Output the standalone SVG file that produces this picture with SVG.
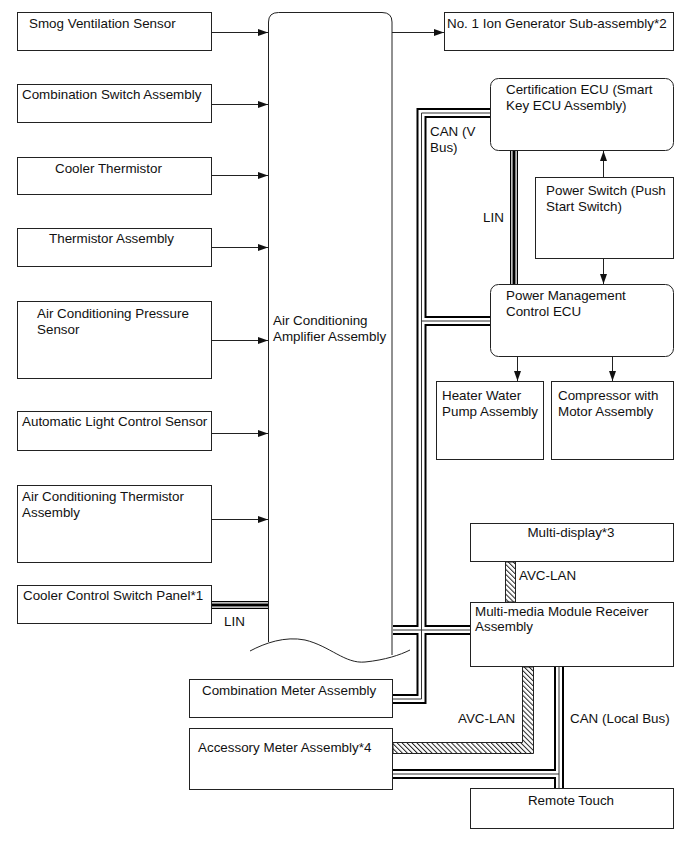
<svg xmlns="http://www.w3.org/2000/svg" width="689" height="853" viewBox="0 0 689 853">
<defs>
<style>
.box{fill:#fff;stroke:#222;stroke-width:1}
.t{font-family:"Liberation Sans",Arial,sans-serif;font-size:13.4px;fill:#111}
.ar{stroke:#222;stroke-width:1;fill:none;marker-end:url(#ah)}
.cb{stroke:#000;stroke-width:10;fill:none}
.cw{stroke:#fff;stroke-width:6;fill:none}
.cc{stroke:#333;stroke-width:1;fill:none}
.lb{stroke:#000;stroke-width:8;fill:none}
.lw{stroke:#fff;stroke-width:5.5;fill:none}
.lc{stroke:#000;stroke-width:3;fill:none}
.hatch{fill:url(#hp);stroke:#222;stroke-width:1}
</style>
<marker id="ah" viewBox="0 0 10 7" refX="10" refY="3.5" markerWidth="10" markerHeight="7" markerUnits="userSpaceOnUse" orient="auto"><path d="M0,0 L10,3.5 L0,7 z" fill="#111"/></marker>
<pattern id="hp" width="3.5" height="3.5" patternUnits="userSpaceOnUse" patternTransform="rotate(-45)"><rect width="3.5" height="3.5" fill="#fff"/><line x1="0.5" y1="0" x2="0.5" y2="3.5" stroke="#222" stroke-width="1"/></pattern>
</defs>
<rect width="689" height="853" fill="#fff"/>

<g id="amplifier">
<path d="M268.5,642 L268.5,22 Q268.5,12.5 278.5,12.5 L382,12.5 Q392,12.5 392,22 L392,655" fill="#fff" stroke="#222" stroke-width="1"/>
<path d="M250,651 C265,643 285,636 305,640 C330,646 345,664 365,662 C385,660 400,655 410,650" fill="none" stroke="#222" stroke-width="1"/>
<text class="t" x="273" y="325">Air Conditioning</text>
<text class="t" x="273" y="341">Amplifier Assembly</text>
</g>

<g id="smog"><rect class="box" x="17.5" y="12.5" width="194" height="38"/><text class="t" x="29" y="28">Smog Ventilation Sensor</text></g>
<g id="combswitch"><rect class="box" x="17.5" y="84.5" width="194" height="38"/><text class="t" x="22" y="99">Combination Switch Assembly</text></g>
<g id="coolertherm"><rect class="box" x="17.5" y="157.5" width="194" height="37"/><text class="t" x="55" y="173">Cooler Thermistor</text></g>
<g id="thermassy"><rect class="box" x="17.5" y="228.5" width="194" height="38"/><text class="t" x="49" y="243">Thermistor Assembly</text></g>
<g id="acpressure"><rect class="box" x="17.5" y="301.5" width="194" height="77"/><text class="t" x="37" y="318">Air Conditioning Pressure</text><text class="t" x="37" y="334">Sensor</text></g>
<g id="autolight"><rect class="box" x="17.5" y="411.5" width="194" height="39"/><text class="t" x="22" y="426">Automatic Light Control Sensor</text></g>
<g id="actherm"><rect class="box" x="17.5" y="485.5" width="194" height="77"/><text class="t" x="22" y="501">Air Conditioning Thermistor</text><text class="t" x="22" y="517">Assembly</text></g>
<g id="coolerpanel"><rect class="box" x="17.5" y="585.5" width="194" height="38"/><text class="t" x="23" y="600">Cooler Control Switch Panel*1</text></g>

<g id="iongen"><rect class="box" x="444.5" y="12.5" width="229" height="38"/><text class="t" x="447" y="28">No. 1 Ion Generator Sub-assembly*2</text></g>
<g id="certecu"><rect class="box" x="490.5" y="78.5" width="183" height="72" rx="8"/><text class="t" x="506" y="94">Certification ECU (Smart</text><text class="t" x="506" y="110">Key ECU Assembly)</text></g>
<g id="powerswitch"><rect class="box" x="535.5" y="177.5" width="138" height="81"/><text class="t" x="546" y="195">Power Switch (Push</text><text class="t" x="546" y="211">Start Switch)</text></g>
<g id="pmcecu"><rect class="box" x="490.5" y="284.5" width="183" height="72" rx="8"/><text class="t" x="506" y="300">Power Management</text><text class="t" x="506" y="316">Control ECU</text></g>
<g id="heaterpump"><rect class="box" x="436.5" y="381.5" width="107" height="78"/><text class="t" x="442" y="400">Heater Water</text><text class="t" x="442" y="416">Pump Assembly</text></g>
<g id="compressor"><rect class="box" x="551.5" y="381.5" width="122" height="78"/><text class="t" x="558" y="400">Compressor with</text><text class="t" x="558" y="416">Motor Assembly</text></g>
<g id="multidisplay"><rect class="box" x="470.5" y="523.5" width="203" height="38"/><text class="t" x="571" y="537" text-anchor="middle">Multi-display*3</text></g>
<g id="multimedia"><rect class="box" x="470.5" y="602.5" width="203" height="64"/><text class="t" x="475" y="616">Multi-media Module Receiver</text><text class="t" x="475" y="631">Assembly</text></g>
<g id="combmeter"><rect class="box" x="189.5" y="679.5" width="203" height="38"/><text class="t" x="202" y="695">Combination Meter Assembly</text></g>
<g id="accmeter"><rect class="box" x="189.5" y="728.5" width="203" height="61"/><text class="t" x="198" y="752">Accessory Meter Assembly*4</text></g>
<g id="remotetouch"><rect class="box" x="470.5" y="788.5" width="203" height="40"/><text class="t" x="571" y="805" text-anchor="middle">Remote Touch</text></g>

<g id="connectors">
<line class="ar" x1="212" y1="32.5" x2="268" y2="32.5"/>
<line class="ar" x1="212" y1="104.5" x2="268" y2="104.5"/>
<line class="ar" x1="212" y1="175.5" x2="268" y2="175.5"/>
<line class="ar" x1="212" y1="247.5" x2="268" y2="247.5"/>
<line class="ar" x1="212" y1="340.5" x2="268" y2="340.5"/>
<line class="ar" x1="212" y1="433.5" x2="268" y2="433.5"/>
<line class="ar" x1="212" y1="519.5" x2="268" y2="519.5"/>
<line class="ar" x1="392" y1="32.5" x2="444" y2="32.5"/>
<line class="ar" x1="603.5" y1="177" x2="603.5" y2="151"/>
<line class="ar" x1="603.5" y1="259" x2="603.5" y2="284"/>
<line class="ar" x1="517.5" y1="357" x2="517.5" y2="381"/>
<line class="ar" x1="612.5" y1="357" x2="612.5" y2="381"/>

<path class="hatch" d="M505.5,562 L515.5,562 L515.5,602 L505.5,602 Z"/>
<path class="hatch" d="M522.5,667 L533.5,667 L533.5,753.5 L393,753.5 L393,742.5 L522.5,742.5 Z"/>

<g id="buses-black">
<path class="cb" d="M490,113 L421.5,113 L421.5,699 L393,699"/>
<path class="cb" d="M421.5,321 L490,321"/>
<path class="cb" d="M393,630 L470,630"/>
<path class="cb" d="M559,667 L559,788"/>
<path class="cb" d="M393,774 L559,774"/>
<path class="lb" d="M514,151 L514,284"/>
<path class="lb" d="M212,605 L268,605"/>
</g>
<g id="buses-white">
<path class="cw" d="M490,113 L421.5,113 L421.5,699 L393,699"/>
<path class="cw" d="M421.5,321 L490,321"/>
<path class="cw" d="M393,630 L470,630"/>
<path class="cw" d="M559,667 L559,788"/>
<path class="cw" d="M393,774 L559,774"/>
<path class="lw" d="M514,151 L514,284"/>
<path class="lw" d="M212,605 L268,605"/>
</g>
<g id="buses-core">
<path class="cc" d="M490,113 L421.5,113 L421.5,699 L393,699"/>
<path class="cc" d="M421.5,321 L490,321"/>
<path class="cc" d="M393,630 L470,630"/>
<path class="cc" d="M559,667 L559,788"/>
<path class="cc" d="M393,774 L559,774"/>
<path class="lc" d="M514,151 L514,284"/>
<path class="lc" d="M212,605 L268,605"/>
</g>
</g>

<g id="labels">
<text class="t" x="430" y="136">CAN (V</text>
<text class="t" x="430" y="152">Bus)</text>
<text class="t" x="483" y="222">LIN</text>
<text class="t" x="224" y="626">LIN</text>
<text class="t" x="519" y="580">AVC-LAN</text>
<text class="t" x="458" y="723">AVC-LAN</text>
<text class="t" x="570" y="723">CAN (Local Bus)</text>
</g>
</svg>
